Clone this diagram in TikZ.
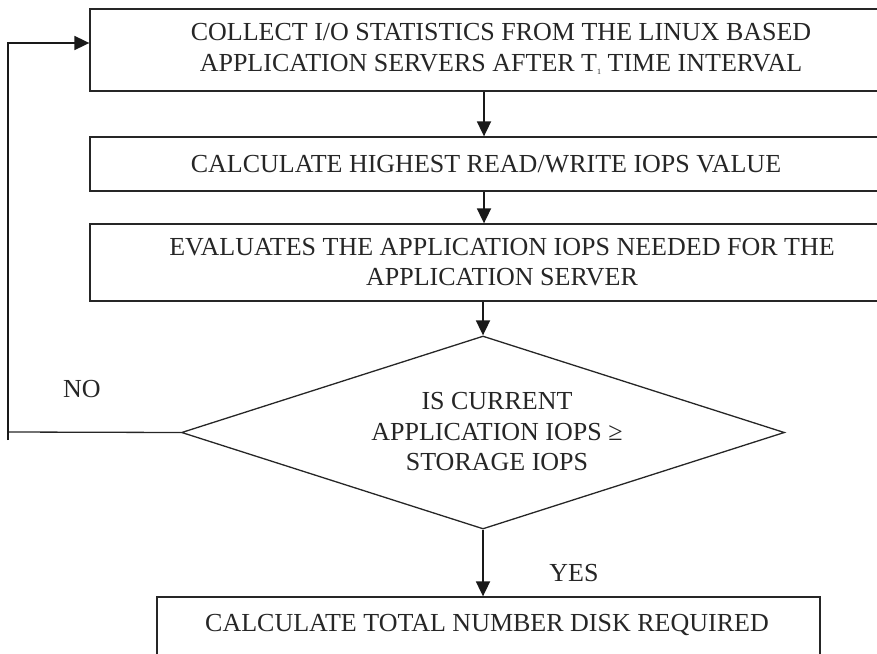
\documentclass[tikz,border=0pt]{standalone}
\usepackage{fontspec}
\setmainfont{Liberation Serif}
\usetikzlibrary{arrows.meta,shapes.geometric}
\begin{document}
\begin{tikzpicture}[x=1pt,y=-1pt,
  box/.style={draw=black!85,line width=1.3pt,inner sep=0pt},
  txt/.style={font=\fontsize{26}{30.5}\selectfont,text=black!85,align=center,inner sep=0pt},
  arr/.style={draw=black!90,line width=1.8pt,-{Triangle[length=15pt,width=14pt]}},
  ln/.style={draw=black!85,line width=1.3pt}]
\useasboundingbox (0,0) rectangle (877,653);
\clip (0,0) rectangle (877,653);
\node[box,minimum width=830pt,minimum height=82pt] (b1) at (505,50) {};
\node[box,minimum width=830pt,minimum height=54pt] (b2) at (505,164) {};
\node[box,minimum width=830pt,minimum height=77pt] (b3) at (505,262.5) {};
\node[box,minimum width=663pt,minimum height=90pt] (b4) at (488.5,642) {};
\node[draw=black!85,line width=1.3pt,shape=diamond,minimum width=603pt,minimum height=193pt,inner sep=0pt] (d) at (483,432.5) {};
\node[txt] (t1) at (501,49) {COLLECT I/O STATISTICS FROM THE LINUX BASED\\APPLICATION SERVERS AFTER T\raisebox{-3pt}{\fontsize{8}{8}\selectfont 1} TIME INTERVAL};
\node[txt] (t2) at (486,164) {CALCULATE HIGHEST READ/WRITE IOPS VALUE};
\node[txt] (t3) at (502,262) {EVALUATES THE APPLICATION IOPS NEEDED FOR THE\\APPLICATION SERVER};
\node[txt] (t4) at (487,625) {CALCULATE TOTAL NUMBER DISK REQUIRED};
\node[txt] (td) at (497,432) {IS CURRENT\\APPLICATION IOPS ≥\\STORAGE IOPS};
\node[txt] (no) at (82,389) {NO};
\node[txt] (yes) at (574,573) {YES};
\coordinate (j1) at (484,0);
\draw[arr] (j1 |- b1.south) -- (j1 |- b2.north);
\draw[arr] (j1 |- b2.south) -- (j1 |- b3.north);
\draw[arr] (d.north |- b3.south) -- (d.north);
\draw[arr] (d.south) -- (d.south |- b4.north);
\coordinate (lb) at (8,432);
\coordinate (lbe) at (8,440);
\coordinate (lt) at (8,43);
\draw[ln] (d.west) -- (lb);
\draw[arr] (lbe) -- (lt) -- (lt -| b1.west);
\end{tikzpicture}
\end{document}
